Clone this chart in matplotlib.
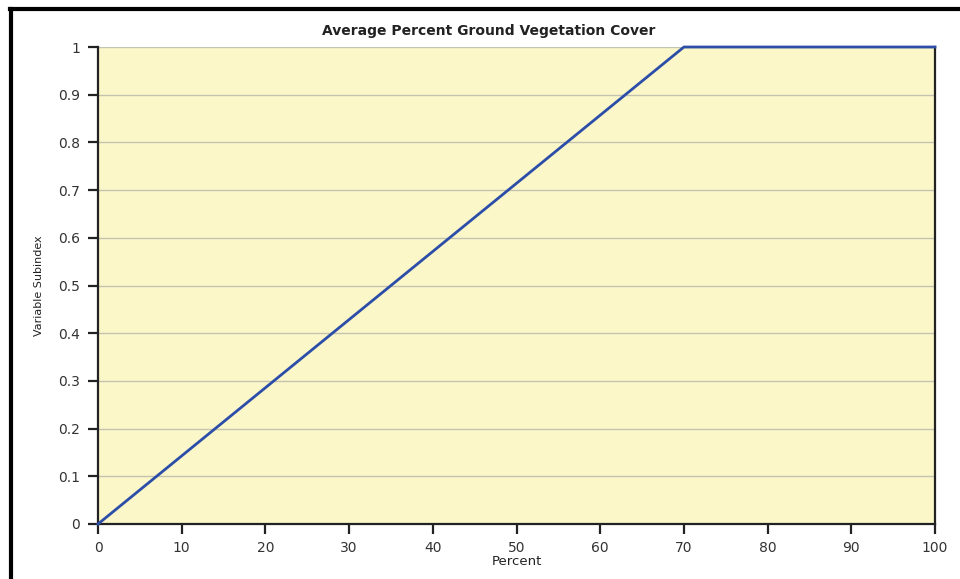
import matplotlib
matplotlib.use("Agg")
import matplotlib.pyplot as plt
from matplotlib.lines import Line2D

plt.rcParams["font.family"] = ["DejaVu Sans"]

percent = [0, 70, 100]
subindex = [0, 1, 1]
x_ticks = [0, 10, 20, 30, 40, 50, 60, 70, 80, 90, 100]
y_ticks = [0, 0.1, 0.2, 0.3, 0.4, 0.5, 0.6, 0.7, 0.8, 0.9, 1]
y_labels = ["0", "0.1", "0.2", "0.3", "0.4", "0.5", "0.6", "0.7", "0.8", "0.9", "1"]

fig = plt.figure(figsize=(9.6, 5.79), dpi=100)
ax = fig.add_axes([0.1021, 0.095, 0.8719, 0.8238])
ax.set_facecolor("#fbf7c9")

ax.plot(percent, subindex, color="#2c4ea8", linewidth=2, zorder=3, clip_on=False)

ax.set_xlim(0, 100)
ax.set_ylim(0, 1)
ax.set_xticks(x_ticks)
ax.set_yticks(y_ticks)
ax.set_yticklabels(y_labels)
ax.grid(axis="y", color="#c4c3b0", linewidth=1)
ax.set_axisbelow(True)

for side in ["left", "bottom", "right"]:
    ax.spines[side].set_color("#222222")
    ax.spines[side].set_linewidth(1.6)
ax.spines["top"].set_visible(False)

ax.tick_params(axis="both", colors="#222222", labelcolor="#333333", labelsize=10,
               width=1.6, length=7, direction="out")
ax.tick_params(axis="x", pad=5)
ax.tick_params(axis="y", pad=6)

ax.set_title("Average Percent Ground Vegetation Cover", fontsize=10, fontweight="bold",
             color="#222222", pad=9, x=0.4665)
ax.set_xlabel("Percent", fontsize=9.5, color="#222222", labelpad=0)
ax.set_ylabel("Variable Subindex", fontsize=8, color="#222222", labelpad=10)

# black frame lines along the top and left edge of the image
fig.add_artist(Line2D([0.010, 1.0], [0.984, 0.984], transform=fig.transFigure,
                      color="black", linewidth=3))
fig.add_artist(Line2D([0.011, 0.011], [0.0, 0.985], transform=fig.transFigure,
                      color="black", linewidth=3))

fig.savefig("out.png", dpi=100)
